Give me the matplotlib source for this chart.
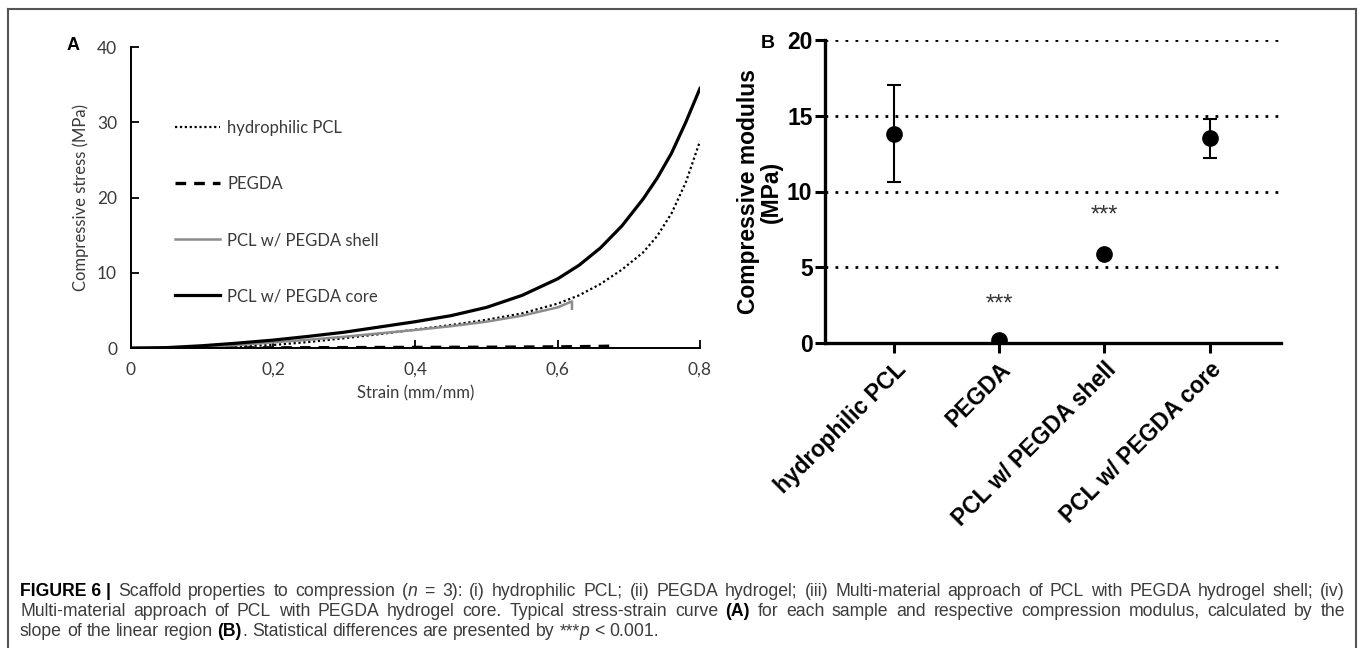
import matplotlib
matplotlib.use("Agg")
import matplotlib.pyplot as plt
from matplotlib.lines import Line2D
import numpy as np

W, H = 1360, 648
DPI = 100

# ---------------- data: panel A (stress-strain curves) ----------------
core_strain = [0.0, 0.05, 0.10, 0.15, 0.20, 0.25, 0.30, 0.35, 0.40, 0.45, 0.50,
               0.55, 0.60, 0.63, 0.66, 0.69, 0.72, 0.74, 0.76, 0.78, 0.80]
core_stress = [0.0, 0.05, 0.3, 0.65, 1.05, 1.55, 2.1, 2.8, 3.5, 4.3, 5.4,
               7.0, 9.2, 11.0, 13.3, 16.2, 19.8, 22.6, 25.9, 30.0, 34.5]

hpcl_strain = [0.05, 0.10, 0.15, 0.20, 0.25, 0.30, 0.35, 0.40, 0.45, 0.50, 0.55,
               0.60, 0.63, 0.66, 0.69, 0.72, 0.74, 0.76, 0.78, 0.80]
hpcl_stress = [0.0, 0.08, 0.2, 0.4, 0.8, 1.3, 1.85, 2.45, 3.05, 3.75, 4.6,
               5.9, 7.0, 8.5, 10.4, 12.7, 14.9, 17.9, 22.0, 27.5]

shell_strain = [0.05, 0.10, 0.15, 0.20, 0.25, 0.30, 0.35, 0.40, 0.45, 0.50, 0.55,
                0.60, 0.62, 0.62]
shell_stress = [0.0, 0.15, 0.4, 0.75, 1.1, 1.5, 1.95, 2.4, 2.9, 3.5, 4.3,
                5.4, 6.2, 5.2]

pegda_strain = [0.08, 0.20, 0.30, 0.40, 0.50, 0.60, 0.65, 0.68]
pegda_stress = [0.0, 0.02, 0.05, 0.08, 0.1, 0.15, 0.2, 0.25]

legend_labels = ["hydrophilic PCL", "PEGDA", "PCL w/ PEGDA shell", "PCL w/ PEGDA core"]
a_xticks = [0, 0.2, 0.4, 0.6, 0.8]
a_xticklabels = ["0", "0,2", "0,4", "0,6", "0,8"]
a_yticks = [0, 10, 20, 30, 40]

# ---------------- data: panel B (compressive modulus) ----------------
categories = ["hydrophilic PCL", "PEGDA", "PCL w/ PEGDA shell", "PCL w/ PEGDA core"]
modulus = [13.8, 0.18, 5.87, 13.5]
modulus_err = [3.2, 0.0, 0.15, 1.3]
signif = ["", "***", "***", ""]
b_yticks = [0, 5, 10, 15, 20]

# ---------------- figure ----------------
fig = plt.figure(figsize=(W / DPI, H / DPI), dpi=DPI)
fig.patch.set_facecolor("white")

def fx(px):
    return px / W

def fy(py):
    return 1 - py / H

A_FONT = ["Lato", "DejaVu Sans"]
B_FONT = ["Liberation Sans", "DejaVu Sans"]
gray_txt = "#3a3a3a"

# ---- panel A ----
axA = fig.add_axes([fx(131), fy(348), fx(700) - fx(131), fy(47) - fy(348)])
axA.plot(hpcl_strain, hpcl_stress, color="black", lw=1.6, ls=(0, (1, 1.2)),
         label=legend_labels[0])
axA.plot(pegda_strain, pegda_stress, color="black", lw=2.4, ls=(0, (3.2, 2.4)),
         label=legend_labels[1])
axA.plot(shell_strain, shell_stress, color="#8c8c8c", lw=1.8, label=legend_labels[2])
axA.plot(core_strain, core_stress, color="black", lw=2.3, label=legend_labels[3])
axA.set_xlim(0, 0.8)
axA.set_ylim(0, 40)
for s in ["top", "right"]:
    axA.spines[s].set_visible(False)
for s in ["left", "bottom"]:
    axA.spines[s].set_linewidth(1.4)
    axA.spines[s].set_color("black")
axA.set_xticks(a_xticks)
axA.set_xticklabels(a_xticklabels)
axA.set_yticks(a_yticks)
axA.tick_params(direction="in", length=6, width=1.3, colors="black",
                labelcolor=gray_txt, labelsize=12.5, pad=10)
for t in axA.get_xticklabels() + axA.get_yticklabels():
    t.set_family(A_FONT)
axA.set_xlabel("Strain (mm/mm)", fontsize=12, family=A_FONT, color=gray_txt, labelpad=5)
axA.set_ylabel("Compressive stress (MPa)", fontsize=12, family=A_FONT, color=gray_txt,
               labelpad=6)
leg = axA.legend(loc="upper left", bbox_to_anchor=(fx(175), fy(120)),
                 bbox_transform=fig.transFigure, frameon=False,
                 prop={"family": A_FONT, "size": 12}, handlelength=2.7,
                 handletextpad=0.45, labelspacing=2.4, borderpad=0, borderaxespad=0)
for t in leg.get_texts():
    t.set_color(gray_txt)
fig.text(fx(73), fy(45), "A", fontsize=13, fontweight="bold", family=B_FONT,
         ha="center", va="center")

# ---- panel B ----
axB = fig.add_axes([fx(825), fy(343), fx(1281) - fx(825), fy(40) - fy(343)])
xpos = np.arange(len(categories))
axB.yaxis.grid(True, color="black", lw=2.0, ls=(0, (1, 2.6)))
axB.set_axisbelow(True)
axB.errorbar(xpos, modulus, yerr=modulus_err, fmt="o", color="black",
             markersize=11, elinewidth=1.5, capsize=4.7, capthick=1.5, zorder=3)
for xi, yi, e, s in zip(xpos, modulus, modulus_err, signif):
    if s:
        axB.annotate(s, (xi, yi + e), xytext=(0, 26), textcoords="offset points",
                     ha="center", va="center", fontsize=17, family=B_FONT,
                     color="#333333")
axB.set_xlim(-0.66, 3.68)
axB.set_ylim(0, 20)
axB.set_yticks(b_yticks)
axB.set_xticks(xpos)
axB.set_xticklabels(categories, rotation=45, ha="right", rotation_mode="anchor")
for s in ["top", "right"]:
    axB.spines[s].set_visible(False)
for s in ["left", "bottom"]:
    axB.spines[s].set_linewidth(2.4)
axB.tick_params(direction="out", length=7, width=2.2, labelsize=16.5, pad=2)
axB.tick_params(axis="x", pad=4)
for t in axB.get_xticklabels() + axB.get_yticklabels():
    t.set_family(B_FONT)
    t.set_fontweight("bold")
axB.set_ylabel("Compressive modulus\n(MPa)", fontsize=16.5, fontweight="bold",
               family=B_FONT, labelpad=3, linespacing=1.0)
fig.text(fx(768), fy(43), "B", fontsize=14, fontweight="bold", family=B_FONT,
         ha="center", va="center")

# ---- frame ----
fc = "#555555"
fig.add_artist(Line2D([fx(8), fx(1356)], [fy(9), fy(9)], transform=fig.transFigure,
                      color=fc, lw=1.5))
fig.add_artist(Line2D([fx(8), fx(8)], [fy(9), 0], transform=fig.transFigure,
                      color=fc, lw=1.5))
fig.add_artist(Line2D([fx(1356), fx(1356)], [fy(9), 0], transform=fig.transFigure,
                      color=fc, lw=1.5))

# ---- caption (justified lines 1-2) ----
cap_lines = [
    [("FIGURE\u00a06\u00a0|", "b", "black"),
     (" Scaffold properties to compression (", "n", None), ("n", "i", None),
     (" = 3): (i) hydrophilic PCL; (ii) PEGDA hydrogel; (iii) Multi-material approach of PCL with PEGDA hydrogel shell; (iv)", "n", None)],
    [("Multi-material approach of PCL with PEGDA hydrogel core. Typical stress-strain curve ", "n", None),
     ("(A)", "b", "black"),
     (" for each sample and respective compression modulus, calculated by the", "n", None)],
    [("slope of the linear region ", "n", None), ("(B)", "b", "black"),
     (". Statistical differences are presented by ***", "n", None), ("p", "i", None),
     (" < 0.001.", "n", None)],
]
cap_justify = [True, True, False]
cap_y = [596, 616, 636]
CAP_FS = 12.7
CAP_X0, CAP_X1 = 20.0, 1345.0
renderer = fig.canvas.get_renderer()

def kw(style, color, fs):
    d = dict(fontsize=fs, family=B_FONT, color=color or "#3c3c3c")
    if style == "b":
        d["fontweight"] = "bold"
    if style == "i":
        d["fontstyle"] = "italic"
    return d

_wcache = {}
def width_px(txt, style, fs):
    key = (txt, style, fs)
    if key in _wcache:
        return _wcache[key]
    t1 = fig.text(0, 0, "|" + txt + "|", **kw(style, None, fs))
    t2 = fig.text(0, 0, "||", **kw(style, None, fs))
    w = t1.get_window_extent(renderer).width - t2.get_window_extent(renderer).width
    t1.remove()
    t2.remove()
    _wcache[key] = w
    return w

def split_words(pieces):
    words = [[]]
    for txt, style, col in pieces:
        parts = txt.split(" ")
        for k, p in enumerate(parts):
            if k > 0:
                words.append([])
            if p:
                words[-1].append((p, style, col))
    return [w for w in words if w]

space_w = width_px(" ", "n", CAP_FS)
for pieces, yb, just in zip(cap_lines, cap_y, cap_justify):
    words = split_words(pieces)
    wsum = sum(width_px(t, s, CAP_FS) for w in words for t, s, c in w)
    gaps = len(words) - 1
    gap = space_w
    if just and gaps > 0:
        gap = max(space_w * 0.8, (CAP_X1 - CAP_X0 - wsum) / gaps)
    x = CAP_X0
    for w in words:
        for t, s, c in w:
            fig.text(fx(x), fy(yb), t, va="baseline", ha="left", **kw(s, c, CAP_FS))
            x += width_px(t, s, CAP_FS)
        x += gap

fig.savefig("out.png", dpi=DPI, facecolor="white")
